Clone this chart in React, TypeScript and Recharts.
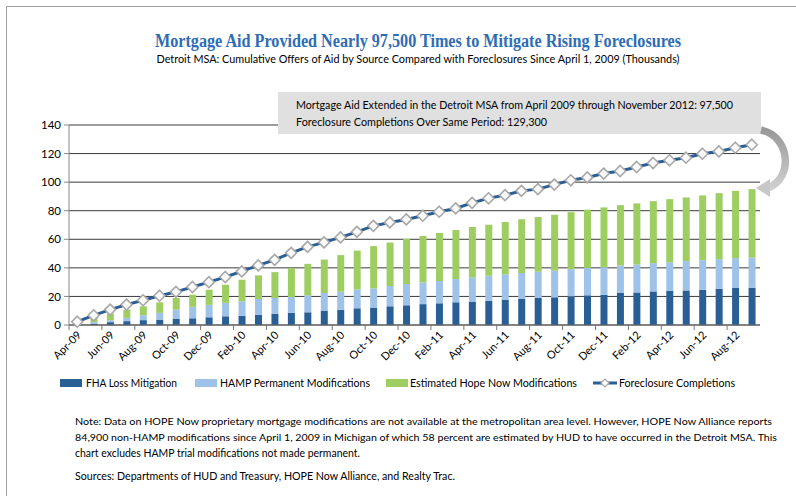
import React from "react";
import { ComposedChart, Bar, Line, XAxis, YAxis, CartesianGrid } from "recharts";

const months = [
  "Apr-09", "May-09", "Jun-09", "Jul-09", "Aug-09", "Sep-09", "Oct-09", "Nov-09", "Dec-09",
  "Jan-10", "Feb-10", "Mar-10", "Apr-10", "May-10", "Jun-10", "Jul-10", "Aug-10", "Sep-10",
  "Oct-10", "Nov-10", "Dec-10", "Jan-11", "Feb-11", "Mar-11", "Apr-11", "May-11", "Jun-11",
  "Jul-11", "Aug-11", "Sep-11", "Oct-11", "Nov-11", "Dec-11", "Jan-12", "Feb-12", "Mar-12",
  "Apr-12", "May-12", "Jun-12", "Jul-12", "Aug-12", "Sep-12",
];

// thousands, cumulative
const fhaLoss = [
  0.2, 1.0, 2.0, 2.7, 3.4, 3.8, 4.5, 4.7, 5.4, 6.1, 6.4, 7.1, 7.8, 8.5, 8.9, 10.1, 10.6, 11.7,
  12.2, 13.1, 13.8, 14.6, 15.2, 15.9, 16.4, 16.9, 17.8, 18.5, 18.9, 19.4, 20.1, 20.8, 21.2, 22.4,
  22.8, 23.5, 24.0, 24.2, 24.7, 25.4, 25.9, 26.1,
];
const hampPermanent = [
  0.1, 1.0, 1.4, 2.3, 3.4, 4.7, 6.3, 8.0, 8.7, 9.4, 10.2, 11.1, 11.1, 11.1, 11.9, 12.3, 12.7, 13.2,
  13.4, 14.2, 14.9, 15.2, 15.6, 16.3, 16.9, 17.6, 17.6, 17.9, 18.4, 18.6, 19.0, 19.2, 19.3, 19.3,
  19.6, 19.8, 20.0, 20.5, 20.7, 20.7, 20.9, 21.1,
];
const hopeNow = [
  0.2, 3.0, 4.6, 5.8, 6.3, 7.4, 8.1, 8.5, 10.6, 12.7, 15.1, 16.5, 18.1, 20.2, 22.0, 23.4, 25.6,
  27.2, 29.6, 30.4, 31.5, 32.5, 33.6, 34.3, 35.3, 35.7, 36.7, 37.6, 38.3, 39.2, 39.9, 40.7, 41.8,
  42.2, 42.7, 43.4, 44.1, 44.6, 45.3, 46.2, 47.1, 47.9,
];
const foreclosures = [
  2.3, 6.8, 10.8, 14.3, 17.3, 20.5, 23.2, 26.6, 30.0, 33.6, 37.5, 41.7, 45.6, 50.5, 54.7, 57.8,
  61.3, 65.2, 69.4, 71.8, 73.9, 76.5, 79.3, 81.6, 85.5, 88.7, 90.9, 93.9, 95.1, 98.3, 101.3, 103.3,
  106.0, 107.8, 110.6, 113.4, 115.3, 117.1, 119.9, 121.5, 124.1, 126.2,
];
const yTicks = [0, 20, 40, 60, 80, 100, 120, 140];

const C_FHA = "#2a5f95";
const C_HAMP = "#9fc3e8";
const C_HOPE = "#9ecd62";
const C_LINE = "#2a5e94";
const FONT = "Lato, 'Open Sans', sans-serif";

const PLOT_W = 691;
const CAT_W = PLOT_W / months.length;

const data = months.map((m, i) => ({
  month: m,
  fha: fhaLoss[i],
  hamp: hampPermanent[i],
  hope: hopeNow[i],
  fc: foreclosures[i],
}));

function MonthTick(props: any) {
  const { x, y, payload, index } = props;
  const axisY = y - 7;
  const left = x - CAT_W / 2;
  return (
    <g>
      <line x1={left} x2={left} y1={axisY} y2={axisY + 5} stroke="#777" />
      {index === 40 && (
        <line x1={x + CAT_W * 1.5} x2={x + CAT_W * 1.5} y1={axisY} y2={axisY + 5} stroke="#777" />
      )}
      <text
        transform={`translate(${x + 2},${y + 1}) rotate(-45)`}
        textAnchor="end"
        dy={4}
        fontSize={11}
        fontFamily={FONT}
        fill="#000"
      >
        {payload.value}
      </text>
    </g>
  );
}

function Diamond(props: any) {
  const { cx, cy } = props;
  if (cx == null || cy == null) return null;
  const r = 5.5;
  return (
    <path
      d={`M${cx} ${cy - r} L${cx + r} ${cy} L${cx} ${cy + r} L${cx - r} ${cy} Z`}
      fill="#fafafa"
      stroke="#a8a8a8"
      strokeWidth={1.6}
    />
  );
}

function Overlay() {
  const t = { fontFamily: FONT, fill: "#000" };
  return (
    <svg
      width={796}
      height={496}
      style={{ position: "absolute", left: 0, top: 0, pointerEvents: "none" }}
    >
      <defs>
        <linearGradient id="arrowGrad" x1="0" y1="0" x2="0" y2="1">
          <stop offset="0" stopColor="#999" />
          <stop offset="1" stopColor="#cfcfcf" />
        </linearGradient>
      </defs>
      <path d="M6.5 496 V6.5 H796" fill="none" stroke="#a0a0a0" />

      <text x={418} y={47} fontSize={18} fontWeight="bold" fontFamily="'Liberation Serif', serif"
        textAnchor="middle" fill="#2e6db4" textLength={526} lengthAdjust="spacingAndGlyphs">
        Mortgage Aid Provided Nearly 97,500 Times to Mitigate Rising Foreclosures
      </text>
      <text x={418} y={63} fontSize={11} textAnchor="middle" {...t} textLength={523} lengthAdjust="spacingAndGlyphs">
        Detroit MSA: Cumulative Offers of Aid by Source Compared with Foreclosures Since April 1, 2009 (Thousands)
      </text>

      <rect x={278} y={92} width={483} height={42} fill="#e0e0e0" />
      <text x={296} y={109} fontSize={11.5} {...t} textLength={437} lengthAdjust="spacingAndGlyphs">
        Mortgage Aid Extended in the Detroit MSA from April 2009 through November 2012: 97,500
      </text>
      <text x={296} y={126} fontSize={11.5} {...t} textLength={251} lengthAdjust="spacingAndGlyphs">
        Foreclosure Completions Over Same Period: 129,300
      </text>

      <path d="M761 130 C 790 136, 794 178, 768 188" fill="none" stroke="url(#arrowGrad)" strokeWidth={7.5} />
      <polygon points="756,188 770,179 770,197" fill="#c8c8c8" />

      <rect x={60} y={379} width={22} height={8} fill={C_FHA} />
      <text x={86} y={387} fontSize={11} {...t} textLength={91} lengthAdjust="spacingAndGlyphs">
        FHA Loss Mitigation
      </text>
      <rect x={195} y={379} width={22} height={8} fill={C_HAMP} />
      <text x={220} y={387} fontSize={11} {...t} textLength={150} lengthAdjust="spacingAndGlyphs">
        HAMP Permanent Modifications
      </text>
      <rect x={386} y={379} width={22} height={8} fill={C_HOPE} />
      <text x={410} y={387} fontSize={11} {...t} textLength={167} lengthAdjust="spacingAndGlyphs">
        Estimated Hope Now Modifications
      </text>
      <line x1={593} x2={617} y1={383} y2={383} stroke={C_LINE} strokeWidth={3} />
      <path d="M605 379 L609 383 L605 387 L601 383 Z" fill="#fff" stroke="#a8a8a8" strokeWidth={1.2} />
      <text x={619} y={387} fontSize={11} {...t} textLength={116} lengthAdjust="spacingAndGlyphs">
        Foreclosure Completions
      </text>

      <text x={75} y={425} fontSize={10.3} {...t} textLength={697} lengthAdjust="spacingAndGlyphs">
        Note: Data on HOPE Now proprietary mortgage modifications are not available at the metropolitan area level. However, HOPE Now Alliance reports
      </text>
      <text x={75} y={441} fontSize={10.3} {...t} textLength={702} lengthAdjust="spacingAndGlyphs">
        84,900 non-HAMP modifications since April 1, 2009 in Michigan of which 58 percent are estimated by HUD to have occurred in the Detroit MSA. This
      </text>
      <text x={75} y={457} fontSize={10.5} {...t} textLength={285} lengthAdjust="spacingAndGlyphs">
        chart excludes HAMP trial modifications not made permanent.
      </text>
      <text x={75} y={480} fontSize={10.5} {...t} textLength={380} lengthAdjust="spacingAndGlyphs">
        Sources: Departments of HUD and Treasury, HOPE Now Alliance, and Realty Trac.
      </text>
    </svg>
  );
}

export default function App() {
  return (
    <div style={{ position: "absolute", left: 0, top: 0, width: 796, height: 496, background: "#fff" }}>
      <ComposedChart
        width={796}
        height={420}
        data={data}
        margin={{ top: 125, right: 36, bottom: 0, left: 0 }}
        barSize={7}
      >
        <CartesianGrid vertical={false} stroke="#3a3a3a" />
        <XAxis
          dataKey="month"
          interval={1}
          height={95}
          tickLine={false}
          tickSize={5}
          tickMargin={2}
          axisLine={{ stroke: "#666" }}
          tick={<MonthTick />}
        />
        <YAxis
          width={69}
          domain={[0, 140]}
          ticks={yTicks}
          interval={0}
          tickSize={5}
          tickMargin={3}
          axisLine={{ stroke: "#888" }}
          tickLine={{ stroke: "#888" }}
          tick={{ fontSize: 11.5, fontFamily: FONT, fill: "#000" }}
        />
        <Bar dataKey="fha" stackId="a" fill={C_FHA} isAnimationActive={false} />
        <Bar dataKey="hamp" stackId="a" fill={C_HAMP} isAnimationActive={false} />
        <Bar dataKey="hope" stackId="a" fill={C_HOPE} isAnimationActive={false} />
        <Line
          dataKey="fc"
          stroke={C_LINE}
          strokeWidth={3}
          dot={<Diamond />}
          activeDot={false}
          isAnimationActive={false}
        />
      </ComposedChart>
      <Overlay />
    </div>
  );
}
